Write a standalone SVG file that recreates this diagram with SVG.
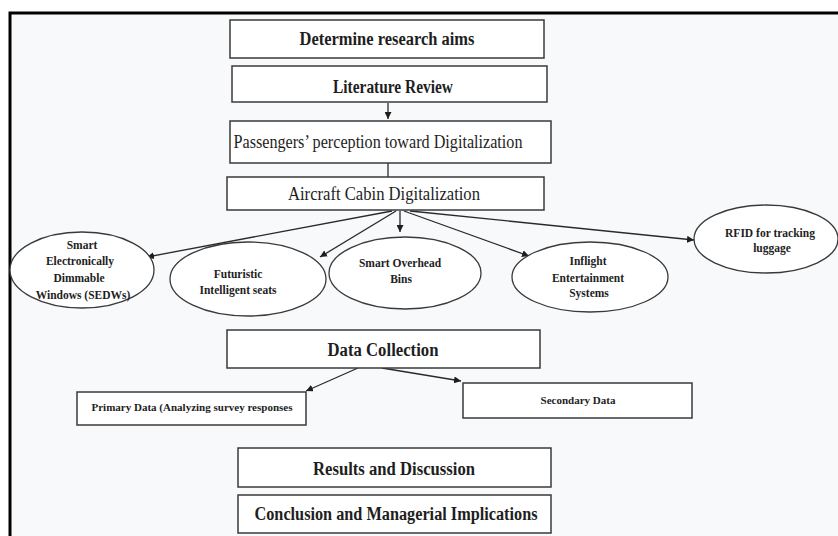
<svg xmlns="http://www.w3.org/2000/svg" width="838" height="536" viewBox="0 0 838 536">
<style>
.bg{fill:#f8f9fb}
.frame{stroke:#000;stroke-width:3;fill:none}
.box{fill:#fff;stroke:#3a3a3a;stroke-width:1.5}
.ell{fill:#fff;stroke:#3a3a3a;stroke-width:1.3}
text{font-family:'Liberation Serif','Times New Roman',serif;fill:#1e1e1e;text-anchor:middle}
.b{font-weight:bold}
.big{font-size:18px}
.sm{font-size:11.5px;font-weight:bold}
.xs{font-size:11px;font-weight:bold}
.con{stroke:#2a2a2a;stroke-width:1.3;fill:none}
</style>
<defs>
<marker id="ah" viewBox="0 0 10 10" refX="10" refY="5" markerWidth="7" markerHeight="7" markerUnits="userSpaceOnUse" orient="auto">
<path d="M0,0 L10,5 L0,10 z" fill="#1e1e1e"/>
</marker>
</defs>
<rect width="838" height="536" fill="#fff"/>
<rect class="bg" x="10" y="13" width="828" height="523"/>
<path class="frame" d="M10,536 L10,13 L838,13"/>

<g id="connectors">
<line class="con" x1="388" y1="103" x2="388" y2="119" marker-end="url(#ah)"/>
<line class="con" x1="388" y1="163" x2="388" y2="177"/>
<line class="con" x1="392" y1="211" x2="147" y2="257" marker-end="url(#ah)"/>
<line class="con" x1="396" y1="211" x2="320" y2="257" marker-end="url(#ah)"/>
<line class="con" x1="400" y1="211" x2="400" y2="232" marker-end="url(#ah)"/>
<line class="con" x1="404" y1="211" x2="529" y2="256" marker-end="url(#ah)"/>
<line class="con" x1="410" y1="211" x2="694" y2="240" marker-end="url(#ah)"/>
<line class="con" x1="358" y1="368" x2="306" y2="391" marker-end="url(#ah)"/>
<line class="con" x1="382" y1="368" x2="461" y2="381" marker-end="url(#ah)"/>
</g>

<g id="n-aims">
<rect class="box" x="230" y="20" width="314" height="38"/>
<text class="b big" x="387" y="45" textLength="175" lengthAdjust="spacingAndGlyphs">Determine research aims</text>
</g>
<g id="n-lit">
<rect class="box" x="232" y="66" width="315" height="36"/>
<text class="b big" x="393" y="93" textLength="120" lengthAdjust="spacingAndGlyphs">Literature Review</text>
</g>
<g id="n-perception">
<rect class="box" x="230" y="121" width="321" height="42"/>
<text class="big" x="378" y="148" textLength="289" lengthAdjust="spacingAndGlyphs">Passengers’ perception toward Digitalization</text>
</g>
<g id="n-cabin">
<rect class="box" x="227" y="177" width="317" height="33"/>
<text class="big" x="384" y="200" textLength="192" lengthAdjust="spacingAndGlyphs">Aircraft Cabin Digitalization</text>
</g>

<g id="n-sedw">
<ellipse class="ell" cx="82" cy="270" rx="72" ry="38"/>
<text class="sm" x="82" y="249">Smart</text>
<text class="sm" x="80" y="265">Electronically</text>
<text class="sm" x="79" y="282">Dimmable</text>
<text class="sm" x="83" y="299">Windows (SEDWs)</text>
</g>
<g id="n-seats">
<ellipse class="ell" cx="248" cy="279" rx="78" ry="37"/>
<text class="sm" x="238" y="278">Futuristic</text>
<text class="sm" x="238" y="294">Intelligent seats</text>
</g>
<g id="n-bins">
<ellipse class="ell" cx="405" cy="273" rx="76" ry="36"/>
<text class="sm" x="400" y="267">Smart Overhead</text>
<text class="sm" x="401" y="283">Bins</text>
</g>
<g id="n-ife">
<ellipse class="ell" cx="590" cy="277" rx="78" ry="35"/>
<text class="sm" x="588" y="265">Inflight</text>
<text class="sm" x="588" y="282">Entertainment</text>
<text class="sm" x="589" y="297">Systems</text>
</g>
<g id="n-rfid">
<ellipse class="ell" cx="766" cy="239" rx="72" ry="34"/>
<text class="sm" x="770" y="237">RFID for tracking</text>
<text class="sm" x="772" y="252">luggage</text>
</g>

<g id="n-data">
<rect class="box" x="227" y="330" width="313" height="38"/>
<text class="b big" x="383" y="356" textLength="111" lengthAdjust="spacingAndGlyphs">Data Collection</text>
</g>
<g id="n-primary">
<rect class="box" x="77" y="392" width="229" height="33"/>
<text class="xs" x="192" y="411" textLength="201" lengthAdjust="spacingAndGlyphs">Primary Data (Analyzing survey responses</text>
</g>
<g id="n-secondary">
<rect class="box" x="463" y="383" width="229" height="35"/>
<text class="xs" x="578" y="404" textLength="75" lengthAdjust="spacingAndGlyphs">Secondary Data</text>
</g>
<g id="n-results">
<rect class="box" x="238" y="448" width="313" height="39"/>
<text class="b big" x="394" y="475" textLength="162" lengthAdjust="spacingAndGlyphs">Results and Discussion</text>
</g>
<g id="n-conclusion">
<rect class="box" x="238" y="495" width="313" height="38"/>
<text class="b big" x="396" y="520" textLength="283" lengthAdjust="spacingAndGlyphs">Conclusion and Managerial Implications</text>
</g>
</svg>
